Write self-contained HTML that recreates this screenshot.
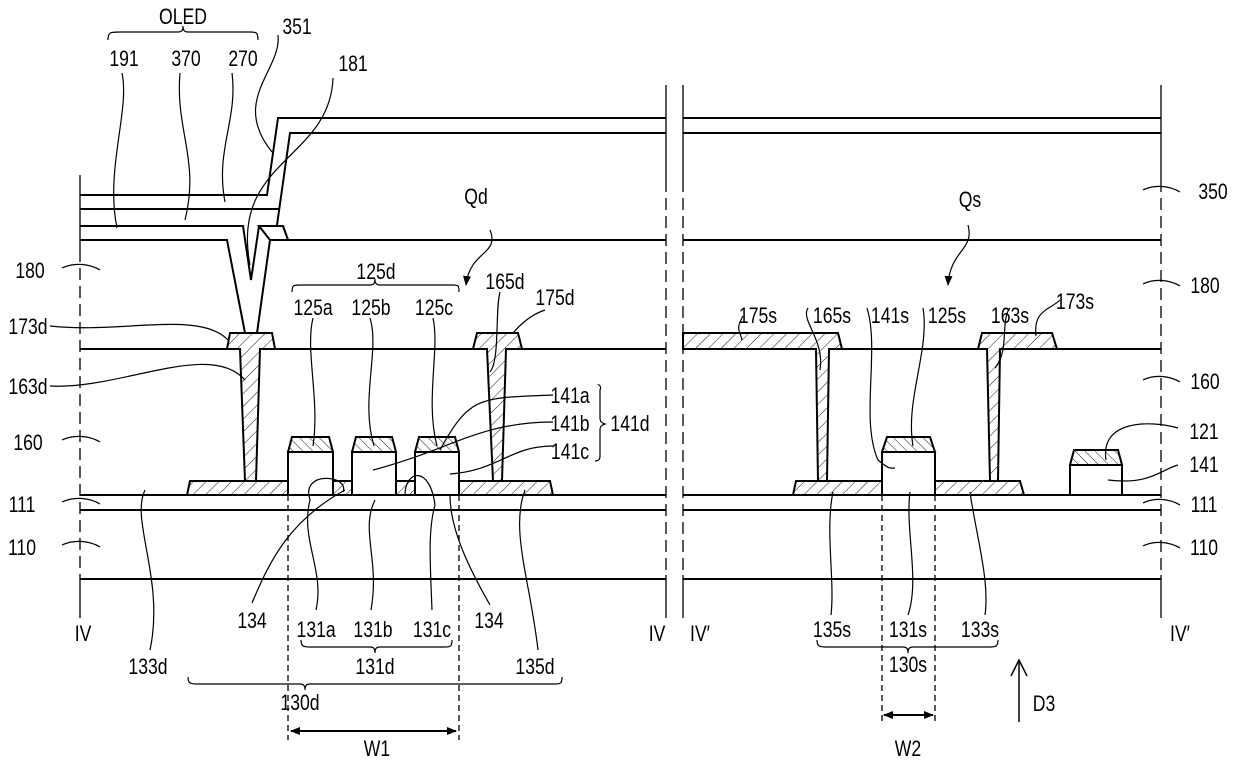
<!DOCTYPE html>
<html><head><meta charset="utf-8"><style>
html,body{margin:0;padding:0;background:#fff}
svg{display:block}
text{font-family:"Liberation Sans Narrow","Liberation Sans",sans-serif;font-size:22px;fill:#000;text-anchor:middle;transform-box:fill-box;transform-origin:center;transform:scaleX(0.8)}
</style></head><body>
<svg width="1240" height="763" viewBox="0 0 1240 763" xmlns="http://www.w3.org/2000/svg">
<defs>
<pattern id="h" patternUnits="userSpaceOnUse" width="9" height="9" patternTransform="rotate(45)">
<rect width="9" height="9" fill="#fff"/><line x1="0" y1="0" x2="0" y2="9" stroke="#000" stroke-width="0.9"/>
</pattern>
<pattern id="h2" patternUnits="userSpaceOnUse" width="7" height="7" patternTransform="rotate(-45)">
<rect width="7" height="7" fill="#fff"/><line x1="0" y1="0" x2="0" y2="7" stroke="#000" stroke-width="0.9"/>
</pattern>
<marker id="ar" markerWidth="10" markerHeight="8" refX="9" refY="4" orient="auto" markerUnits="userSpaceOnUse"><path d="M0,0 L10,4 L0,8z" fill="#000"/></marker>
<marker id="al" markerWidth="10" markerHeight="8" refX="1" refY="4" orient="auto" markerUnits="userSpaceOnUse"><path d="M10,0 L0,4 L10,8z" fill="#000"/></marker>
</defs>
<g stroke="#000" stroke-width="2" fill="none">
<polyline points="80,195 267,195 278,118 666,118"/>
<polyline points="277,225 290,133 666,133"/>
<line x1="683" y1="118" x2="1161" y2="118"/>
<line x1="683" y1="133" x2="1161" y2="133"/>
<line x1="80" y1="209" x2="279" y2="209"/>
<polyline points="80,226 243,226 251,280 259,226 283,226 288,240"/>
<polyline points="80,240 227,240 245,333"/>
<polyline points="257,333 270,240 666,240"/>
<line x1="683" y1="240" x2="1161" y2="240"/>
<line x1="80" y1="349" x2="666" y2="349"/>
<line x1="683" y1="349" x2="1161" y2="349"/>
<line x1="80" y1="495" x2="666" y2="495"/>
<line x1="683" y1="495" x2="1161" y2="495"/>
<line x1="80" y1="510" x2="666" y2="510"/>
<line x1="683" y1="510" x2="1161" y2="510"/>
<line x1="80" y1="579" x2="666" y2="579"/>
<line x1="683" y1="579" x2="1161" y2="579"/>
</g>
<g stroke="#000" stroke-width="1.3" fill="none">
<line x1="80" y1="175" x2="80" y2="250"/>
<line x1="80" y1="250" x2="80" y2="575" stroke-dasharray="12,6"/>
<line x1="80" y1="575" x2="80" y2="618"/>
<line x1="666" y1="85" x2="666" y2="180"/>
<line x1="666" y1="180" x2="666" y2="575" stroke-dasharray="12,6"/>
<line x1="666" y1="575" x2="666" y2="618"/>
<line x1="683" y1="85" x2="683" y2="180"/>
<line x1="683" y1="180" x2="683" y2="575" stroke-dasharray="12,6"/>
<line x1="683" y1="575" x2="683" y2="618"/>
<line x1="1161" y1="85" x2="1161" y2="180"/>
<line x1="1161" y1="180" x2="1161" y2="575" stroke-dasharray="12,6"/>
<line x1="1161" y1="575" x2="1161" y2="618"/>
<g stroke-dasharray="6,4">
<line x1="288" y1="485" x2="288" y2="740"/><line x1="459" y1="485" x2="459" y2="740"/>
<line x1="882" y1="495" x2="882" y2="722"/><line x1="935" y1="495" x2="935" y2="722"/>
</g>
</g>
<g stroke="#000" stroke-width="2">
<polygon points="187,495 190,481 550,481 553,495" fill="url(#h)"/>
<polygon points="793,495 796,481 1020,481 1024,495" fill="url(#h)"/>
<rect x="288" y="452" width="45" height="43" fill="#fff"/>
<rect x="352" y="452" width="44" height="43" fill="#fff"/>
<rect x="415" y="452" width="44" height="43" fill="#fff"/>
<rect x="882" y="452" width="53" height="43" fill="#fff"/>
<rect x="1070" y="465" width="52" height="30" fill="#fff"/>
<polygon points="288,452 292,437 329,437 333,452" fill="url(#h2)"/>
<polygon points="352,452 356,437 392,437 396,452" fill="url(#h2)"/>
<polygon points="415,452 419,437 455,437 459,452" fill="url(#h2)"/>
<polygon points="882,452 887,437 930,437 935,452" fill="url(#h2)"/>
<polygon points="1070,465 1074,450 1118,450 1122,465" fill="url(#h2)"/>
<polygon points="227,349 230,333 272,333 275,349 260,349 256,481 245,481 240,349" fill="url(#h)"/>
<polygon points="473,349 477,333 518,333 522,349 506,349 502,481 493,481 487,349" fill="url(#h)"/>
<polygon points="683,349 683,333 838,333 842,349 829,349 827,481 818,481 816,349" fill="url(#h)"/>
<polygon points="978,349 982,333 1052,333 1057,349 1000,349 998,481 990,481 987,349" fill="url(#h)"/>
<polygon points="259,226 283,226 288,240 270,240" fill="#fff"/>
</g>
<g stroke="#000" stroke-width="1.2" fill="none">
<path d="M122,73 C130,110 105,170 117,228"/>
<path d="M180,73 C175,130 200,160 185,220"/>
<path d="M232,73 C238,120 215,150 225,202"/>
<path d="M278,35 C282,70 230,100 272,152"/>
<path d="M333,78 C330,160 230,160 250,265"/>
<path d="M313,318 C305,350 320,400 313,446"/>
<path d="M370,318 C380,350 360,400 374,446"/>
<path d="M433,318 C440,350 425,400 437,446"/>
<path d="M500,292 C495,310 500,360 490,372"/>
<path d="M545,310 C530,315 520,325 513,333"/>
<path d="M50,326 C120,334 200,310 228,340"/>
<path d="M50,386 C120,390 210,340 245,380"/>
<path d="M553,395 C480,398 470,395 440,450"/>
<path d="M553,422 C480,422 450,450 373,470"/>
<path d="M553,446 C510,446 500,470 450,474"/>
<path d="M252,603 C270,560 290,520 345,490"/>
<path d="M316,610 C325,570 300,540 310,500 C300,470 350,475 343,492"/>
<path d="M371,610 C380,560 360,530 375,500"/>
<path d="M432,610 C430,560 428,530 435,505 C430,465 405,470 405,495"/>
<path d="M490,605 C470,570 450,530 450,495"/>
<path d="M150,650 C165,580 130,520 145,490"/>
<path d="M538,650 C530,580 510,530 525,490"/>
<path d="M743,316 C735,330 740,330 742,340"/>
<path d="M808,308 C800,320 825,340 820,370"/>
<path d="M867,308 C880,350 860,420 878,460 C890,470 890,468 895,468"/>
<path d="M923,308 C930,350 905,400 913,446"/>
<path d="M1010,308 C1000,320 1010,350 995,368"/>
<path d="M1060,300 C1050,310 1033,310 1036,336"/>
<path d="M1178,428 C1150,420 1100,420 1106,460"/>
<path d="M1178,465 C1160,470 1150,485 1108,480"/>
<path d="M831,615 C835,580 825,530 833,492"/>
<path d="M908,615 C920,580 905,530 910,492"/>
<path d="M985,615 C990,580 975,530 970,492"/>
<path d="M490,230 C500,255 470,250 466,285" marker-end="url(#ar)"/>
<path d="M968,225 C975,250 950,250 948,285" marker-end="url(#ar)"/>
<path d="M62,268 C75,262 90,264 100,270"/><path d="M62,440 C75,434 90,436 100,442"/>
<path d="M62,502 C75,496 90,498 100,504"/><path d="M62,545 C75,539 90,541 100,547"/>
<path d="M1143,190 C1155,184 1170,186 1180,192"/><path d="M1143,284 C1155,278 1170,280 1180,286"/>
<path d="M1143,380 C1155,374 1170,376 1180,382"/><path d="M1143,503 C1155,497 1170,499 1180,505"/>
<path d="M1143,546 C1155,540 1170,542 1180,548"/>
<path d="M108,40 C108,32 110,32 120,32 L178,32 C182,32 183,30 183,26 C183,30 184,32 188,32 L250,32 C256,32 258,32 258,40"/>
<path d="M292,292 C292,285 294,285 300,285 L370,285 C374,285 375,283 375,279 C375,283 376,285 380,285 L452,285 C458,285 459,285 459,292"/>
<path d="M598,385 C598,384 602,386 600,390 L600,418 C600,422 602,423 605,424 C602,425 600,426 600,430 L600,456 C600,460 598,461 595,461"/>
<path d="M301,640 C301,646 303,647 310,647 L370,647 C374,647 375,649 375,653 C375,649 376,647 380,647 L445,647 C451,647 452,646 452,640"/>
<path d="M188,677 C188,683 190,684 197,684 L300,684 C304,684 305,686 305,690 C305,686 306,684 310,684 L555,684 C561,684 562,683 562,677"/>
<path d="M817,640 C817,646 819,647 826,647 L903,647 C907,647 908,649 908,653 C908,649 909,647 913,647 L990,647 C996,647 998,646 998,640"/>
<line x1="291" y1="731" x2="456" y2="731" marker-start="url(#al)" marker-end="url(#ar)" stroke-width="2"/>
<line x1="884" y1="715" x2="933" y2="715" marker-start="url(#al)" marker-end="url(#ar)" stroke-width="2"/>
<line x1="1019" y1="722" x2="1019" y2="660" stroke-width="1.5"/>
<path d="M1011,676 L1019,660 L1027,676" stroke-width="1.5"/>
</g>
<g>
<text x="183" y="24">OLED</text>
<text x="124" y="66">191</text><text x="186" y="66">370</text><text x="243" y="66">270</text>
<text x="297" y="34">351</text><text x="353" y="71">181</text>
<text x="476" y="204">Qd</text><text x="376" y="279">125d</text>
<text x="313" y="315">125a</text><text x="371" y="315">125b</text><text x="434" y="315">125c</text>
<text x="505" y="289">165d</text><text x="555" y="305">175d</text>
<text x="30" y="278">180</text><text x="28" y="334">173d</text><text x="28" y="394">163d</text>
<text x="28" y="450">160</text><text x="22" y="512">111</text><text x="22" y="555">110</text>
<text x="570" y="403">141a</text><text x="570" y="431">141b</text><text x="570" y="459">141c</text>
<text x="630" y="431">141d</text>
<text x="758" y="323">175s</text><text x="832" y="323">165s</text><text x="890" y="323">141s</text>
<text x="947" y="323">125s</text><text x="1010" y="323">163s</text><text x="1075" y="309">173s</text>
<text x="970" y="207">Qs</text>
<text x="1213" y="199">350</text><text x="1205" y="293">180</text><text x="1205" y="389">160</text>
<text x="1204" y="439">121</text><text x="1204" y="472">141</text>
<text x="1204" y="512">111</text><text x="1204" y="555">110</text>
<text x="83" y="641">IV</text><text x="252" y="628">134</text>
<text x="316" y="637">131a</text><text x="373" y="637">131b</text><text x="432" y="637">131c</text>
<text x="489" y="628">134</text><text x="657" y="641">IV</text><text x="700" y="641">IV′</text>
<text x="148" y="674">133d</text><text x="375" y="674">131d</text><text x="535" y="674">135d</text>
<text x="300" y="710">130d</text><text x="377" y="756">W1</text>
<text x="832" y="637">135s</text><text x="908" y="637">131s</text><text x="980" y="637">133s</text>
<text x="908" y="672">130s</text><text x="908" y="756">W2</text>
<text x="1044" y="711">D3</text><text x="1180" y="641">IV′</text>
</g>
</svg>
</body></html>
